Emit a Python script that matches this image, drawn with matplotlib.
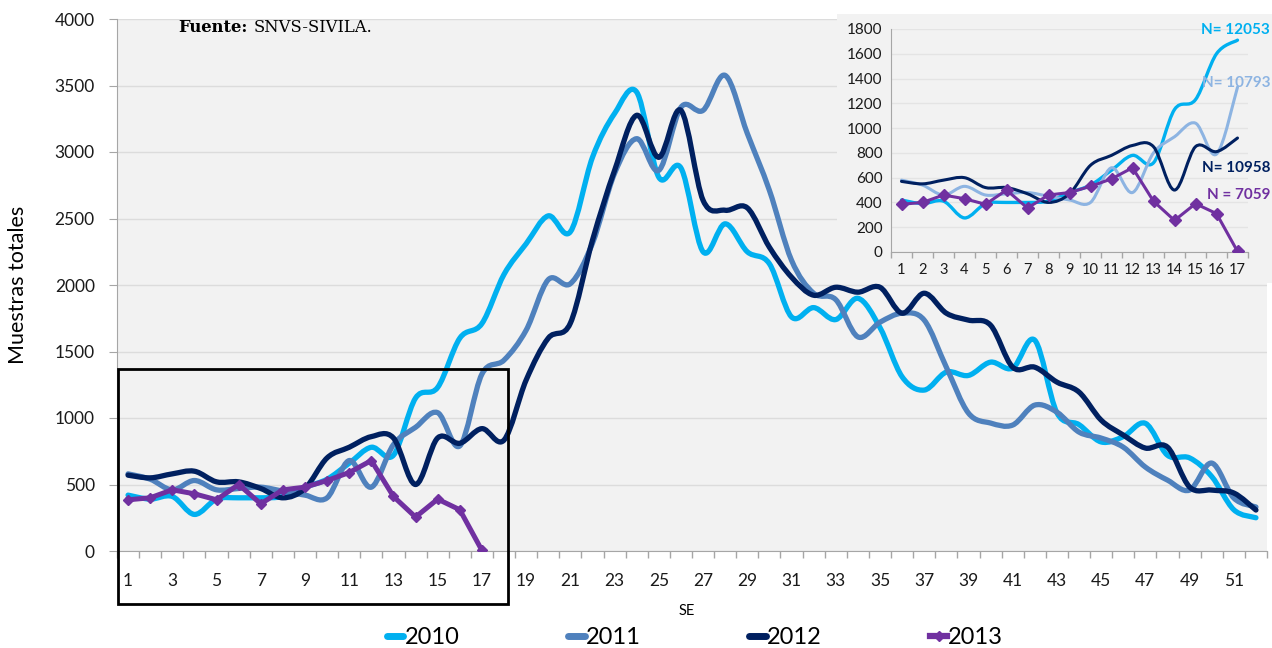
import numpy as np
import matplotlib
matplotlib.use('Agg')
import matplotlib.pyplot as plt
from matplotlib.path import Path
from matplotlib.patches import PathPatch, Rectangle
from matplotlib.lines import Line2D

plt.rcParams['font.family'] = ['Lato', 'DejaVu Sans']

# weekly totals (SE 1-52)
weeks = np.arange(1, 53)
w2010 = [420, 390, 410, 275, 390, 400, 400, 410, 480, 540, 660, 780, 720, 1150, 1230, 1600, 1710,
         2080, 2310, 2520, 2400, 2960, 3290, 3450, 2810, 2880, 2250, 2460, 2250, 2160, 1760, 1830,
         1740, 1900, 1680, 1310, 1210, 1345, 1320, 1420, 1375, 1585, 1040, 950, 820, 860, 960, 720,
         700, 560, 310, 250]
w2011 = [580, 540, 460, 530, 460, 470, 480, 450, 420, 400, 680, 480, 800, 930, 1040, 790, 1330,
         1435, 1660, 2040, 2010, 2314, 2840, 3100, 2862, 3336, 3313, 3576, 3140, 2712, 2186, 1938,
         1890, 1610, 1720, 1788, 1736, 1382, 1037, 962, 947, 1097, 1044, 894, 849, 781, 631, 533,
         458, 661, 398, 331]
w2012 = [570, 550, 580, 600, 520, 520, 470, 400, 470, 700, 780, 860, 850, 500, 850, 810, 920,
         834, 1285, 1600, 1713, 2337, 2862, 3276, 2960, 3313, 2637, 2562, 2580, 2284, 2059, 1923,
         1983, 1946, 1983, 1788, 1938, 1788, 1736, 1698, 1382, 1382, 1270, 1195, 984, 872, 774, 781,
         481, 458, 436, 308]
w2013 = [385, 400, 460, 430, 385, 500, 355, 460, 480, 530, 590, 680, 410, 255, 390, 310, 5]

years = ['2010', '2011', '2012', '2013']
main_colors = ['#00B0F0', '#4F81BD', '#002060', '#7030A0']
inset_colors = ['#00B0F0', '#8DB4E2', '#002060', '#7030A0']
n_labels = ['N= 12053', 'N= 10793', 'N= 10958', 'N = 7059']

BG = '#F2F2F2'
GRID = '#DCDCDC'
SPINE = '#A6A6A6'


def smooth_path(x, y):
    # Excel-style smoothed line as cubic Bezier segments
    pts = np.column_stack([x, y]).astype(float)
    n = len(pts)
    verts = [pts[0]]
    codes = [Path.MOVETO]
    for i in range(n - 1):
        p0 = pts[i - 1] if i > 0 else pts[i]
        p1, p2 = pts[i], pts[i + 1]
        p3 = pts[i + 2] if i + 2 < n else pts[i + 1]
        verts += [p1 + (p2 - p0) / 6, p2 - (p3 - p1) / 6, p2]
        codes += [Path.CURVE4] * 3
    return Path(verts, codes)


def style_category_axis(ax, n, label_every, fs, pad):
    ax.set_xlim(0.5, n + 0.5)
    ax.set_xticks(np.arange(1, n + 1, label_every))
    ax.set_xticks(np.arange(0.5, n + 1), minor=True)
    ax.tick_params(axis='x', which='major', length=0, pad=pad, labelsize=fs, colors='#1a1a1a')
    ax.tick_params(axis='x', which='minor', length=5, color=SPINE, width=1)


fig = plt.figure(figsize=(12.72, 6.48), dpi=100)

# ---- main chart ----
ax = fig.add_axes([117 / 1272, 1 - 551 / 648, 1150 / 1272, 532 / 648])
ax.set_facecolor(BG)
for s in ['top', 'right']:
    ax.spines[s].set_visible(False)
for s in ['left', 'bottom']:
    ax.spines[s].set_color(SPINE)
ax.set_ylim(0, 4000)
ax.set_yticks(np.arange(0, 4001, 500))
ax.yaxis.grid(True, color=GRID, linewidth=1)
ax.set_axisbelow(True)
ax.tick_params(axis='y', length=6, color=SPINE, pad=10, labelsize=12.5, colors='#1a1a1a')
style_category_axis(ax, 52, 2, 12.5, 16)

for data, c in zip([w2010, w2011, w2012], main_colors[:3]):
    ax.add_patch(PathPatch(smooth_path(weeks[:len(data)], data), fill=False, edgecolor=c,
                           lw=3.8, capstyle='round', joinstyle='round', zorder=3))
ax.plot(weeks[:len(w2013)], w2013, color=main_colors[3], lw=3.6, marker='D', ms=5.5,
        solid_joinstyle='round', zorder=4)

# highlighted box around SE 1-17
ax.add_patch(Rectangle((0.56, -395), 17.6, 1765, fill=False, edgecolor='black', lw=2,
                       clip_on=False, zorder=5))

fig.text(18 / 1272, 1 - 285 / 648, 'Muestras totales', rotation=90, ha='center', va='center',
         fontsize=15.5)
fig.text(687 / 1272, 1 - 611 / 648, 'SE', ha='center', va='center', fontsize=10.5)

src_bold = fig.text(178 / 1272, 1 - 27 / 648, 'Fuente:', ha='left', va='center', fontsize=11.8,
                    family='DejaVu Serif', fontweight='bold')
fig.canvas.draw()
x_end = src_bold.get_window_extent().x1
fig.text((x_end + 6) / 1272, 1 - 27 / 648, 'SNVS-SIVILA.', ha='left', va='center',
         fontsize=11.8, family='DejaVu Serif')

handles = [Line2D([], [], color=c, lw=5, solid_capstyle='round') for c in main_colors[:3]]
handles.append(Line2D([], [], color=main_colors[3], lw=4.5, marker='D', ms=5.5))
fig.legend(handles, years, loc='center', bbox_to_anchor=(695 / 1272, 1 - 638 / 648), ncol=4,
           frameon=False, fontsize=17, handlelength=0.7, handletextpad=0.05,
           columnspacing=4.6, borderpad=0)

# ---- inset (SE 1-17) ----
bg = fig.add_axes([837 / 1272, 1 - 283 / 648, 435 / 1272, 269 / 648], zorder=2)
bg.set_facecolor(BG)
bg.set_xticks([])
bg.set_yticks([])
for s in bg.spines.values():
    s.set_visible(False)

axi = fig.add_axes([891 / 1272, 1 - 252 / 648, 357 / 1272, 223 / 648], zorder=3)
axi.set_facecolor(BG)
for s in ['top', 'right']:
    axi.spines[s].set_visible(False)
for s in ['left', 'bottom']:
    axi.spines[s].set_color(SPINE)
axi.set_ylim(0, 1800)
axi.set_yticks(np.arange(0, 1801, 200))
axi.yaxis.grid(True, color='#E4E4E4', linewidth=1)
axi.set_axisbelow(True)
axi.tick_params(axis='y', length=0, pad=6, labelsize=11, colors='#1a1a1a')
style_category_axis(axi, 17, 1, 10.5, 8)
axi.tick_params(axis='x', which='minor', length=4)

wk17 = weeks[:17]
for data, c, lw in zip([w2010, w2011, w2012], inset_colors[:3], [2.4, 2.2, 2.2]):
    axi.add_patch(PathPatch(smooth_path(wk17, data[:17]), fill=False, edgecolor=c, lw=lw,
                            capstyle='round', joinstyle='round', zorder=3))
axi.plot(wk17, w2013, color=inset_colors[3], lw=2.2, marker='D', ms=6, zorder=4)

for txt, c, ypix in zip(n_labels, inset_colors, [30, 83, 168, 195]):
    fig.text(1270 / 1272, 1 - ypix / 648, txt, ha='right', va='center', fontsize=11,
             fontweight='bold', color=c, zorder=10)

fig.savefig('out.png', dpi=100, facecolor='white')
